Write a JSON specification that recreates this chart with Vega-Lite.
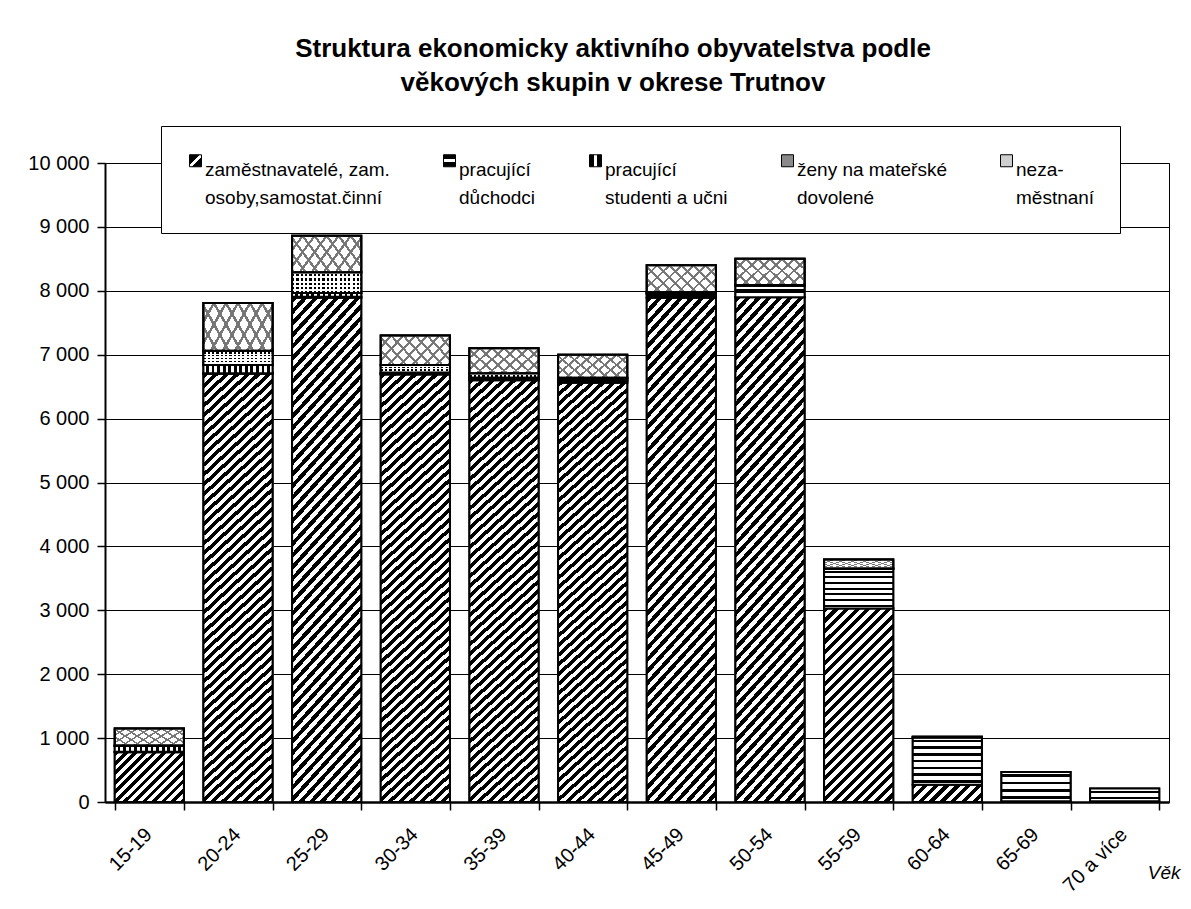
{
"$schema": "https://vega.github.io/schema/vega-lite/v6.json",
"width": 1064,
"height": 639,
"autosize": {"type": "none"},
"padding": {"left": 105, "top": 163, "right": 22, "bottom": 107},
"background": "white",
"title": {"text": ["Struktura ekonomicky aktivního obyvatelstva podle", "věkových skupin v okrese Trutnov"], "font": "Liberation Sans", "fontSize": 26, "fontWeight": "bold", "anchor": "middle", "frame": "group", "offset": 30, "dx": -24, "lineHeight": 34, "color": "#000"},
"data": {"values": [
{"vek": "15-19", "kat": "zaměstnavatelé, zam. osoby,samostat.činní", "hodnota": 780},
{"vek": "15-19", "kat": "pracující důchodci", "hodnota": 5},
{"vek": "15-19", "kat": "pracující studenti a učni", "hodnota": 90},
{"vek": "15-19", "kat": "ženy na mateřské dovolené", "hodnota": 10},
{"vek": "15-19", "kat": "nezaměstnaní", "hodnota": 265},
{"vek": "20-24", "kat": "zaměstnavatelé, zam. osoby,samostat.činní", "hodnota": 6700},
{"vek": "20-24", "kat": "pracující důchodci", "hodnota": 10},
{"vek": "20-24", "kat": "pracující studenti a učni", "hodnota": 130},
{"vek": "20-24", "kat": "ženy na mateřské dovolené", "hodnota": 220},
{"vek": "20-24", "kat": "nezaměstnaní", "hodnota": 750},
{"vek": "25-29", "kat": "zaměstnavatelé, zam. osoby,samostat.činní", "hodnota": 7890},
{"vek": "25-29", "kat": "pracující důchodci", "hodnota": 15},
{"vek": "25-29", "kat": "pracující studenti a učni", "hodnota": 60},
{"vek": "25-29", "kat": "ženy na mateřské dovolené", "hodnota": 325},
{"vek": "25-29", "kat": "nezaměstnaní", "hodnota": 570},
{"vek": "30-34", "kat": "zaměstnavatelé, zam. osoby,samostat.činní", "hodnota": 6690},
{"vek": "30-34", "kat": "pracující důchodci", "hodnota": 10},
{"vek": "30-34", "kat": "pracující studenti a učni", "hodnota": 20},
{"vek": "30-34", "kat": "ženy na mateřské dovolené", "hodnota": 120},
{"vek": "30-34", "kat": "nezaměstnaní", "hodnota": 460},
{"vek": "35-39", "kat": "zaměstnavatelé, zam. osoby,samostat.činní", "hodnota": 6600},
{"vek": "35-39", "kat": "pracující důchodci", "hodnota": 20},
{"vek": "35-39", "kat": "pracující studenti a učni", "hodnota": 20},
{"vek": "35-39", "kat": "ženy na mateřské dovolené", "hodnota": 70},
{"vek": "35-39", "kat": "nezaměstnaní", "hodnota": 390},
{"vek": "40-44", "kat": "zaměstnavatelé, zam. osoby,samostat.činní", "hodnota": 6560},
{"vek": "40-44", "kat": "pracující důchodci", "hodnota": 30},
{"vek": "40-44", "kat": "pracující studenti a učni", "hodnota": 20},
{"vek": "40-44", "kat": "ženy na mateřské dovolené", "hodnota": 30},
{"vek": "40-44", "kat": "nezaměstnaní", "hodnota": 360},
{"vek": "45-49", "kat": "zaměstnavatelé, zam. osoby,samostat.činní", "hodnota": 7890},
{"vek": "45-49", "kat": "pracující důchodci", "hodnota": 60},
{"vek": "45-49", "kat": "pracující studenti a učni", "hodnota": 10},
{"vek": "45-49", "kat": "ženy na mateřské dovolené", "hodnota": 20},
{"vek": "45-49", "kat": "nezaměstnaní", "hodnota": 420},
{"vek": "50-54", "kat": "zaměstnavatelé, zam. osoby,samostat.činní", "hodnota": 7900},
{"vek": "50-54", "kat": "pracující důchodci", "hodnota": 180},
{"vek": "50-54", "kat": "pracující studenti a učni", "hodnota": 5},
{"vek": "50-54", "kat": "ženy na mateřské dovolené", "hodnota": 5},
{"vek": "50-54", "kat": "nezaměstnaní", "hodnota": 410},
{"vek": "55-59", "kat": "zaměstnavatelé, zam. osoby,samostat.činní", "hodnota": 3030},
{"vek": "55-59", "kat": "pracující důchodci", "hodnota": 620},
{"vek": "55-59", "kat": "pracující studenti a učni", "hodnota": 5},
{"vek": "55-59", "kat": "nezaměstnaní", "hodnota": 140},
{"vek": "60-64", "kat": "zaměstnavatelé, zam. osoby,samostat.činní", "hodnota": 270},
{"vek": "60-64", "kat": "pracující důchodci", "hodnota": 740},
{"vek": "60-64", "kat": "nezaměstnaní", "hodnota": 10},
{"vek": "65-69", "kat": "zaměstnavatelé, zam. osoby,samostat.činní", "hodnota": 10},
{"vek": "65-69", "kat": "pracující důchodci", "hodnota": 460},
{"vek": "70 a více", "kat": "zaměstnavatelé, zam. osoby,samostat.činní", "hodnota": 10},
{"vek": "70 a více", "kat": "pracující důchodci", "hodnota": 200}
]},
"transform": [{"stack": "hodnota", "groupby": ["vek"], "as": ["y0", "y1"]}],
"encoding": {
  "x": {"field": "vek", "type": "ordinal", "sort": null, "scale": {"paddingInner": 0.22, "paddingOuter": 0.11},
    "axis": {"title": "Věk", "labelAngle": -45, "labelAlign": "right", "labelFontSize": 20, "tickBand": "extent", "tickSize": 8, "tickWidth": 1.5, "domainWidth": 2.5, "labelPadding": 14, "labelOffset": -8, "titleFontStyle": "italic", "titleFontWeight": "normal", "titleFontSize": 19, "titleX": 1075, "titleY": 76, "titleAlign": "right", "titleBaseline": "alphabetic", "grid": false}},
  "y": {"field": "y1", "type": "quantitative", "scale": {"domain": [0, 10000], "nice": false},
    "axis": {"title": null, "values": [0, 1000, 2000, 3000, 4000, 5000, 6000, 7000, 8000, 9000, 10000], "labelExpr": "replace(format(datum.value, ','), ',', ' ')", "grid": true, "gridWidth": 1, "gridColor": "#000", "domainWidth": 2, "tickSize": 8, "tickWidth": 1.5, "labelPadding": 8, "labelFontSize": 20}},
  "y2": {"field": "y0"}
},
"layer": [
{"mark": {"type": "bar", "stroke": "#000", "strokeWidth": 2},
 "encoding": {"fill": {"field": "kat", "type": "nominal",
   "scale": {"domain": ["zaměstnavatelé, zam. osoby,samostat.činní", "pracující důchodci", "pracující studenti a učni", "ženy na mateřské dovolené", "nezaměstnaní"],
     "range": [
       {"expr": "{gradient:'linear',x1:0,y1:0,x2:1,y2:1,stops:[{offset:0,color:'#000'},{offset:0.42,color:'#000'},{offset:0.42,color:'#fff'},{offset:0.58,color:'#fff'},{offset:0.58,color:'#000'},{offset:1,color:'#000'}]}"},
       {"expr": "{gradient:'linear',x1:0,y1:0,x2:0,y2:1,stops:[{offset:0,color:'#000'},{offset:0.38,color:'#000'},{offset:0.38,color:'#fff'},{offset:0.62,color:'#fff'},{offset:0.62,color:'#000'},{offset:1,color:'#000'}]}"},
       {"expr": "{gradient:'linear',x1:0,y1:0,x2:1,y2:0,stops:[{offset:0,color:'#000'},{offset:0.38,color:'#000'},{offset:0.38,color:'#fff'},{offset:0.62,color:'#fff'},{offset:0.62,color:'#000'},{offset:1,color:'#000'}]}"},
       "#8a8a8a",
       "#cfcfcf"]},
   "legend": {"title": null, "orient": "none", "legendX": 56, "legendY": -37, "direction": "horizontal", "columnPadding": 50, "padding": 25, "strokeColor": "#000", "fillColor": "#fff", "labelFont": "Liberation Sans", "labelFontSize": 19, "labelColor": "#000", "labelLimit": 0, "labelOffset": 0, "labelBaseline": "top", "symbolType": "square", "symbolSize": 144, "symbolStrokeColor": "#000", "symbolStrokeWidth": 1,
     "labelExpr": "datum.label == 'pracující důchodci' ? ['pracující', '\u00a0\u00a0\u00a0důchodci'] : datum.label == 'pracující studenti a učni' ? ['pracující', 'studenti a učni'] : datum.label == 'ženy na mateřské dovolené' ? ['ženy na mateřské', '\u00a0\u00a0dovolené'] : datum.label == 'nezaměstnaní' ? ['neza-', '\u00a0\u00a0městnaní'] : ['zaměstnavatelé, zam.', '\u00a0\u00a0\u00a0osoby,samostat.činní']"}}}},
{"transform": [{"filter": {"field": "kat", "equal": "zaměstnavatelé, zam. osoby,samostat.činní"}}, {"filter": {"field": "vek", "oneOf": ["20-24", "25-29", "30-34", "35-39", "40-44", "45-49", "50-54"]}}],
 "mark": {"type": "bar", "stroke": "#000", "strokeWidth": 2, "fill": {"gradient": "linear", "x1": 0, "y1": 0, "x2": 0.1696, "y2": 1.1252, "stops": [
{"offset":0,"color":"#000"},
{"offset":0.01,"color":"#000"},{"offset":0.01,"color":"#fff"},{"offset":0.02,"color":"#fff"},{"offset":0.02,"color":"#000"},
{"offset":0.03,"color":"#000"},{"offset":0.03,"color":"#fff"},{"offset":0.04,"color":"#fff"},{"offset":0.04,"color":"#000"},
{"offset":0.05,"color":"#000"},{"offset":0.05,"color":"#fff"},{"offset":0.06,"color":"#fff"},{"offset":0.06,"color":"#000"},
{"offset":0.07,"color":"#000"},{"offset":0.07,"color":"#fff"},{"offset":0.08,"color":"#fff"},{"offset":0.08,"color":"#000"},
{"offset":0.09,"color":"#000"},{"offset":0.09,"color":"#fff"},{"offset":0.1,"color":"#fff"},{"offset":0.1,"color":"#000"},
{"offset":0.11,"color":"#000"},{"offset":0.11,"color":"#fff"},{"offset":0.12,"color":"#fff"},{"offset":0.12,"color":"#000"},
{"offset":0.13,"color":"#000"},{"offset":0.13,"color":"#fff"},{"offset":0.14,"color":"#fff"},{"offset":0.14,"color":"#000"},
{"offset":0.15,"color":"#000"},{"offset":0.15,"color":"#fff"},{"offset":0.16,"color":"#fff"},{"offset":0.16,"color":"#000"},
{"offset":0.17,"color":"#000"},{"offset":0.17,"color":"#fff"},{"offset":0.18,"color":"#fff"},{"offset":0.18,"color":"#000"},
{"offset":0.19,"color":"#000"},{"offset":0.19,"color":"#fff"},{"offset":0.2,"color":"#fff"},{"offset":0.2,"color":"#000"},
{"offset":0.21,"color":"#000"},{"offset":0.21,"color":"#fff"},{"offset":0.22,"color":"#fff"},{"offset":0.22,"color":"#000"},
{"offset":0.23,"color":"#000"},{"offset":0.23,"color":"#fff"},{"offset":0.24,"color":"#fff"},{"offset":0.24,"color":"#000"},
{"offset":0.25,"color":"#000"},{"offset":0.25,"color":"#fff"},{"offset":0.26,"color":"#fff"},{"offset":0.26,"color":"#000"},
{"offset":0.27,"color":"#000"},{"offset":0.27,"color":"#fff"},{"offset":0.28,"color":"#fff"},{"offset":0.28,"color":"#000"},
{"offset":0.29,"color":"#000"},{"offset":0.29,"color":"#fff"},{"offset":0.3,"color":"#fff"},{"offset":0.3,"color":"#000"},
{"offset":0.31,"color":"#000"},{"offset":0.31,"color":"#fff"},{"offset":0.32,"color":"#fff"},{"offset":0.32,"color":"#000"},
{"offset":0.33,"color":"#000"},{"offset":0.33,"color":"#fff"},{"offset":0.34,"color":"#fff"},{"offset":0.34,"color":"#000"},
{"offset":0.35,"color":"#000"},{"offset":0.35,"color":"#fff"},{"offset":0.36,"color":"#fff"},{"offset":0.36,"color":"#000"},
{"offset":0.37,"color":"#000"},{"offset":0.37,"color":"#fff"},{"offset":0.38,"color":"#fff"},{"offset":0.38,"color":"#000"},
{"offset":0.39,"color":"#000"},{"offset":0.39,"color":"#fff"},{"offset":0.4,"color":"#fff"},{"offset":0.4,"color":"#000"},
{"offset":0.41,"color":"#000"},{"offset":0.41,"color":"#fff"},{"offset":0.42,"color":"#fff"},{"offset":0.42,"color":"#000"},
{"offset":0.43,"color":"#000"},{"offset":0.43,"color":"#fff"},{"offset":0.44,"color":"#fff"},{"offset":0.44,"color":"#000"},
{"offset":0.45,"color":"#000"},{"offset":0.45,"color":"#fff"},{"offset":0.46,"color":"#fff"},{"offset":0.46,"color":"#000"},
{"offset":0.47,"color":"#000"},{"offset":0.47,"color":"#fff"},{"offset":0.48,"color":"#fff"},{"offset":0.48,"color":"#000"},
{"offset":0.49,"color":"#000"},{"offset":0.49,"color":"#fff"},{"offset":0.5,"color":"#fff"},{"offset":0.5,"color":"#000"},
{"offset":0.51,"color":"#000"},{"offset":0.51,"color":"#fff"},{"offset":0.52,"color":"#fff"},{"offset":0.52,"color":"#000"},
{"offset":0.53,"color":"#000"},{"offset":0.53,"color":"#fff"},{"offset":0.54,"color":"#fff"},{"offset":0.54,"color":"#000"},
{"offset":0.55,"color":"#000"},{"offset":0.55,"color":"#fff"},{"offset":0.56,"color":"#fff"},{"offset":0.56,"color":"#000"},
{"offset":0.57,"color":"#000"},{"offset":0.57,"color":"#fff"},{"offset":0.58,"color":"#fff"},{"offset":0.58,"color":"#000"},
{"offset":0.59,"color":"#000"},{"offset":0.59,"color":"#fff"},{"offset":0.6,"color":"#fff"},{"offset":0.6,"color":"#000"},
{"offset":0.61,"color":"#000"},{"offset":0.61,"color":"#fff"},{"offset":0.62,"color":"#fff"},{"offset":0.62,"color":"#000"},
{"offset":0.63,"color":"#000"},{"offset":0.63,"color":"#fff"},{"offset":0.64,"color":"#fff"},{"offset":0.64,"color":"#000"},
{"offset":0.65,"color":"#000"},{"offset":0.65,"color":"#fff"},{"offset":0.66,"color":"#fff"},{"offset":0.66,"color":"#000"},
{"offset":0.67,"color":"#000"},{"offset":0.67,"color":"#fff"},{"offset":0.68,"color":"#fff"},{"offset":0.68,"color":"#000"},
{"offset":0.69,"color":"#000"},{"offset":0.69,"color":"#fff"},{"offset":0.7,"color":"#fff"},{"offset":0.7,"color":"#000"},
{"offset":0.71,"color":"#000"},{"offset":0.71,"color":"#fff"},{"offset":0.72,"color":"#fff"},{"offset":0.72,"color":"#000"},
{"offset":0.73,"color":"#000"},{"offset":0.73,"color":"#fff"},{"offset":0.74,"color":"#fff"},{"offset":0.74,"color":"#000"},
{"offset":0.75,"color":"#000"},{"offset":0.75,"color":"#fff"},{"offset":0.76,"color":"#fff"},{"offset":0.76,"color":"#000"},
{"offset":0.77,"color":"#000"},{"offset":0.77,"color":"#fff"},{"offset":0.78,"color":"#fff"},{"offset":0.78,"color":"#000"},
{"offset":0.79,"color":"#000"},{"offset":0.79,"color":"#fff"},{"offset":0.8,"color":"#fff"},{"offset":0.8,"color":"#000"},
{"offset":0.81,"color":"#000"},{"offset":0.81,"color":"#fff"},{"offset":0.82,"color":"#fff"},{"offset":0.82,"color":"#000"},
{"offset":0.83,"color":"#000"},{"offset":0.83,"color":"#fff"},{"offset":0.84,"color":"#fff"},{"offset":0.84,"color":"#000"},
{"offset":0.85,"color":"#000"},{"offset":0.85,"color":"#fff"},{"offset":0.86,"color":"#fff"},{"offset":0.86,"color":"#000"},
{"offset":0.87,"color":"#000"},{"offset":0.87,"color":"#fff"},{"offset":0.88,"color":"#fff"},{"offset":0.88,"color":"#000"},
{"offset":0.89,"color":"#000"},{"offset":0.89,"color":"#fff"},{"offset":0.9,"color":"#fff"},{"offset":0.9,"color":"#000"},
{"offset":0.91,"color":"#000"},{"offset":0.91,"color":"#fff"},{"offset":0.92,"color":"#fff"},{"offset":0.92,"color":"#000"},
{"offset":0.93,"color":"#000"},{"offset":0.93,"color":"#fff"},{"offset":0.94,"color":"#fff"},{"offset":0.94,"color":"#000"},
{"offset":0.95,"color":"#000"},{"offset":0.95,"color":"#fff"},{"offset":0.96,"color":"#fff"},{"offset":0.96,"color":"#000"},
{"offset":0.97,"color":"#000"},{"offset":0.97,"color":"#fff"},{"offset":0.98,"color":"#fff"},{"offset":0.98,"color":"#000"},
{"offset":0.99,"color":"#000"},{"offset":0.99,"color":"#fff"},{"offset":1,"color":"#fff"}]}}},
{"transform": [{"filter": {"field": "kat", "equal": "zaměstnavatelé, zam. osoby,samostat.činní"}}, {"filter": {"field": "vek", "equal": "55-59"}}],
 "mark": {"type": "bar", "stroke": "#000", "strokeWidth": 2, "fill": {"gradient": "linear", "x1": 0, "y1": 0, "x2": 0.429, "y2": 1.2036, "stops": [
{"offset":0,"color":"#000"},
{"offset":0.02,"color":"#000"},{"offset":0.02,"color":"#fff"},{"offset":0.04,"color":"#fff"},{"offset":0.04,"color":"#000"},
{"offset":0.06,"color":"#000"},{"offset":0.06,"color":"#fff"},{"offset":0.08,"color":"#fff"},{"offset":0.08,"color":"#000"},
{"offset":0.1,"color":"#000"},{"offset":0.1,"color":"#fff"},{"offset":0.12,"color":"#fff"},{"offset":0.12,"color":"#000"},
{"offset":0.14,"color":"#000"},{"offset":0.14,"color":"#fff"},{"offset":0.16,"color":"#fff"},{"offset":0.16,"color":"#000"},
{"offset":0.18,"color":"#000"},{"offset":0.18,"color":"#fff"},{"offset":0.2,"color":"#fff"},{"offset":0.2,"color":"#000"},
{"offset":0.22,"color":"#000"},{"offset":0.22,"color":"#fff"},{"offset":0.24,"color":"#fff"},{"offset":0.24,"color":"#000"},
{"offset":0.26,"color":"#000"},{"offset":0.26,"color":"#fff"},{"offset":0.28,"color":"#fff"},{"offset":0.28,"color":"#000"},
{"offset":0.3,"color":"#000"},{"offset":0.3,"color":"#fff"},{"offset":0.32,"color":"#fff"},{"offset":0.32,"color":"#000"},
{"offset":0.34,"color":"#000"},{"offset":0.34,"color":"#fff"},{"offset":0.36,"color":"#fff"},{"offset":0.36,"color":"#000"},
{"offset":0.38,"color":"#000"},{"offset":0.38,"color":"#fff"},{"offset":0.4,"color":"#fff"},{"offset":0.4,"color":"#000"},
{"offset":0.42,"color":"#000"},{"offset":0.42,"color":"#fff"},{"offset":0.44,"color":"#fff"},{"offset":0.44,"color":"#000"},
{"offset":0.46,"color":"#000"},{"offset":0.46,"color":"#fff"},{"offset":0.48,"color":"#fff"},{"offset":0.48,"color":"#000"},
{"offset":0.5,"color":"#000"},{"offset":0.5,"color":"#fff"},{"offset":0.52,"color":"#fff"},{"offset":0.52,"color":"#000"},
{"offset":0.54,"color":"#000"},{"offset":0.54,"color":"#fff"},{"offset":0.56,"color":"#fff"},{"offset":0.56,"color":"#000"},
{"offset":0.58,"color":"#000"},{"offset":0.58,"color":"#fff"},{"offset":0.6,"color":"#fff"},{"offset":0.6,"color":"#000"},
{"offset":0.62,"color":"#000"},{"offset":0.62,"color":"#fff"},{"offset":0.64,"color":"#fff"},{"offset":0.64,"color":"#000"},
{"offset":0.66,"color":"#000"},{"offset":0.66,"color":"#fff"},{"offset":0.68,"color":"#fff"},{"offset":0.68,"color":"#000"},
{"offset":0.7,"color":"#000"},{"offset":0.7,"color":"#fff"},{"offset":0.72,"color":"#fff"},{"offset":0.72,"color":"#000"},
{"offset":0.74,"color":"#000"},{"offset":0.74,"color":"#fff"},{"offset":0.76,"color":"#fff"},{"offset":0.76,"color":"#000"},
{"offset":0.78,"color":"#000"},{"offset":0.78,"color":"#fff"},{"offset":0.8,"color":"#fff"},{"offset":0.8,"color":"#000"},
{"offset":0.82,"color":"#000"},{"offset":0.82,"color":"#fff"},{"offset":0.84,"color":"#fff"},{"offset":0.84,"color":"#000"},
{"offset":0.86,"color":"#000"},{"offset":0.86,"color":"#fff"},{"offset":0.88,"color":"#fff"},{"offset":0.88,"color":"#000"},
{"offset":0.9,"color":"#000"},{"offset":0.9,"color":"#fff"},{"offset":0.92,"color":"#fff"},{"offset":0.92,"color":"#000"},
{"offset":0.94,"color":"#000"},{"offset":0.94,"color":"#fff"},{"offset":0.96,"color":"#fff"},{"offset":0.96,"color":"#000"},
{"offset":0.98,"color":"#000"},{"offset":0.98,"color":"#fff"},{"offset":1,"color":"#fff"}]}}},
{"transform": [{"filter": {"field": "kat", "equal": "zaměstnavatelé, zam. osoby,samostat.činní"}}, {"filter": {"field": "vek", "equal": "15-19"}}],
 "mark": {"type": "bar", "stroke": "#000", "strokeWidth": 2, "fill": {"gradient": "linear", "x1": 0, "y1": 0, "x2": 1.132, "y2": 0.8168, "stops": [
{"offset":0,"color":"#000"},
{"offset":0.04,"color":"#000"},{"offset":0.04,"color":"#fff"},{"offset":0.08,"color":"#fff"},{"offset":0.08,"color":"#000"},
{"offset":0.12,"color":"#000"},{"offset":0.12,"color":"#fff"},{"offset":0.16,"color":"#fff"},{"offset":0.16,"color":"#000"},
{"offset":0.2,"color":"#000"},{"offset":0.2,"color":"#fff"},{"offset":0.24,"color":"#fff"},{"offset":0.24,"color":"#000"},
{"offset":0.28,"color":"#000"},{"offset":0.28,"color":"#fff"},{"offset":0.32,"color":"#fff"},{"offset":0.32,"color":"#000"},
{"offset":0.36,"color":"#000"},{"offset":0.36,"color":"#fff"},{"offset":0.4,"color":"#fff"},{"offset":0.4,"color":"#000"},
{"offset":0.44,"color":"#000"},{"offset":0.44,"color":"#fff"},{"offset":0.48,"color":"#fff"},{"offset":0.48,"color":"#000"},
{"offset":0.52,"color":"#000"},{"offset":0.52,"color":"#fff"},{"offset":0.56,"color":"#fff"},{"offset":0.56,"color":"#000"},
{"offset":0.6,"color":"#000"},{"offset":0.6,"color":"#fff"},{"offset":0.64,"color":"#fff"},{"offset":0.64,"color":"#000"},
{"offset":0.68,"color":"#000"},{"offset":0.68,"color":"#fff"},{"offset":0.72,"color":"#fff"},{"offset":0.72,"color":"#000"},
{"offset":0.76,"color":"#000"},{"offset":0.76,"color":"#fff"},{"offset":0.8,"color":"#fff"},{"offset":0.8,"color":"#000"},
{"offset":0.84,"color":"#000"},{"offset":0.84,"color":"#fff"},{"offset":0.88,"color":"#fff"},{"offset":0.88,"color":"#000"},
{"offset":0.92,"color":"#000"},{"offset":0.92,"color":"#fff"},{"offset":0.96,"color":"#fff"},{"offset":0.96,"color":"#000"},
{"offset":1,"color":"#000"}]}}},
{"transform": [{"filter": {"field": "kat", "equal": "zaměstnavatelé, zam. osoby,samostat.činní"}}, {"filter": {"field": "vek", "equal": "60-64"}}],
 "mark": {"type": "bar", "stroke": "#000", "strokeWidth": 2, "fill": {"gradient": "linear", "x1": 0, "y1": 0, "x2": 1.177, "y2": 0.295, "stops": [
{"offset":0,"color":"#000"},
{"offset":0.0625,"color":"#000"},{"offset":0.0625,"color":"#fff"},{"offset":0.125,"color":"#fff"},{"offset":0.125,"color":"#000"},
{"offset":0.1875,"color":"#000"},{"offset":0.1875,"color":"#fff"},{"offset":0.25,"color":"#fff"},{"offset":0.25,"color":"#000"},
{"offset":0.3125,"color":"#000"},{"offset":0.3125,"color":"#fff"},{"offset":0.375,"color":"#fff"},{"offset":0.375,"color":"#000"},
{"offset":0.4375,"color":"#000"},{"offset":0.4375,"color":"#fff"},{"offset":0.5,"color":"#fff"},{"offset":0.5,"color":"#000"},
{"offset":0.5625,"color":"#000"},{"offset":0.5625,"color":"#fff"},{"offset":0.625,"color":"#fff"},{"offset":0.625,"color":"#000"},
{"offset":0.6875,"color":"#000"},{"offset":0.6875,"color":"#fff"},{"offset":0.75,"color":"#fff"},{"offset":0.75,"color":"#000"},
{"offset":0.8125,"color":"#000"},{"offset":0.8125,"color":"#fff"},{"offset":0.875,"color":"#fff"},{"offset":0.875,"color":"#000"},
{"offset":0.9375,"color":"#000"},{"offset":0.9375,"color":"#fff"},{"offset":1,"color":"#fff"}]}}},
{"transform": [{"filter": {"field": "kat", "equal": "pracující důchodci"}}, {"filter": {"field": "vek", "oneOf": ["55-59", "60-64"]}}],
 "mark": {"type": "bar", "stroke": "#000", "strokeWidth": 2, "fill": {"gradient": "linear", "x1": 0, "y1": 0, "x2": 0, "y2": 1, "stops": [
{"offset":0,"color":"#fff"},
{"offset":0.0464,"color":"#fff"},{"offset":0.0464,"color":"#000"},{"offset":0.0964,"color":"#000"},{"offset":0.0964,"color":"#fff"},
{"offset":0.1893,"color":"#fff"},{"offset":0.1893,"color":"#000"},{"offset":0.2393,"color":"#000"},{"offset":0.2393,"color":"#fff"},
{"offset":0.3321,"color":"#fff"},{"offset":0.3321,"color":"#000"},{"offset":0.3821,"color":"#000"},{"offset":0.3821,"color":"#fff"},
{"offset":0.475,"color":"#fff"},{"offset":0.475,"color":"#000"},{"offset":0.525,"color":"#000"},{"offset":0.525,"color":"#fff"},
{"offset":0.6179,"color":"#fff"},{"offset":0.6179,"color":"#000"},{"offset":0.6679,"color":"#000"},{"offset":0.6679,"color":"#fff"},
{"offset":0.7607,"color":"#fff"},{"offset":0.7607,"color":"#000"},{"offset":0.8107,"color":"#000"},{"offset":0.8107,"color":"#fff"},
{"offset":0.9036,"color":"#fff"},{"offset":0.9036,"color":"#000"},{"offset":0.9536,"color":"#000"},{"offset":0.9536,"color":"#fff"},
{"offset":1,"color":"#fff"}]}}},
{"transform": [{"filter": {"field": "kat", "equal": "pracující důchodci"}}, {"filter": {"field": "vek", "equal": "65-69"}}],
 "mark": {"type": "bar", "stroke": "#000", "strokeWidth": 2, "fill": {"gradient": "linear", "x1": 0, "y1": 0, "x2": 0, "y2": 1, "stops": [
{"offset":0,"color":"#fff"},
{"offset":0.08125,"color":"#fff"},{"offset":0.08125,"color":"#000"},{"offset":0.16875,"color":"#000"},{"offset":0.16875,"color":"#fff"},
{"offset":0.33125,"color":"#fff"},{"offset":0.33125,"color":"#000"},{"offset":0.41875,"color":"#000"},{"offset":0.41875,"color":"#fff"},
{"offset":0.58125,"color":"#fff"},{"offset":0.58125,"color":"#000"},{"offset":0.66875,"color":"#000"},{"offset":0.66875,"color":"#fff"},
{"offset":0.83125,"color":"#fff"},{"offset":0.83125,"color":"#000"},{"offset":0.91875,"color":"#000"},{"offset":0.91875,"color":"#fff"},
{"offset":1,"color":"#fff"}]}}},
{"transform": [{"filter": {"field": "kat", "equal": "pracující důchodci"}}, {"filter": {"field": "vek", "equal": "70 a více"}}],
 "mark": {"type": "bar", "stroke": "#000", "strokeWidth": 2, "fill": {"gradient": "linear", "x1": 0, "y1": 0, "x2": 0, "y2": 1, "stops": [
{"offset":0,"color":"#fff"},
{"offset":0.1625,"color":"#fff"},{"offset":0.1625,"color":"#000"},{"offset":0.3375,"color":"#000"},{"offset":0.3375,"color":"#fff"},
{"offset":0.6625,"color":"#fff"},{"offset":0.6625,"color":"#000"},{"offset":0.8375,"color":"#000"},{"offset":0.8375,"color":"#fff"},
{"offset":1,"color":"#fff"}]}}},
{"transform": [{"filter": {"field": "kat", "equal": "pracující důchodci"}}, {"filter": {"field": "vek", "oneOf": ["15-19", "20-24", "25-29", "30-34", "35-39", "40-44", "45-49", "50-54"]}}],
 "mark": {"type": "bar", "stroke": "#000", "strokeWidth": 2, "fill": {"gradient": "linear", "x1": 0, "y1": 0, "x2": 0, "y2": 1, "stops": [
{"offset":0,"color":"#fff"},{"offset":0.325,"color":"#fff"},{"offset":0.325,"color":"#000"},{"offset":0.675,"color":"#000"},{"offset":0.675,"color":"#fff"},{"offset":1,"color":"#fff"}]}}},
{"transform": [{"filter": {"field": "kat", "equal": "pracující studenti a učni"}}],
 "mark": {"type": "bar", "stroke": "#000", "strokeWidth": 2, "fill": {"gradient": "linear", "x1": 0, "y1": 0, "x2": 1, "y2": 0, "stops": [
{"offset":0,"color":"#fff"},
{"offset":0.04,"color":"#fff"},{"offset":0.04,"color":"#000"},{"offset":0.08,"color":"#000"},{"offset":0.08,"color":"#fff"},
{"offset":0.12,"color":"#fff"},{"offset":0.12,"color":"#000"},{"offset":0.16,"color":"#000"},{"offset":0.16,"color":"#fff"},
{"offset":0.2,"color":"#fff"},{"offset":0.2,"color":"#000"},{"offset":0.24,"color":"#000"},{"offset":0.24,"color":"#fff"},
{"offset":0.28,"color":"#fff"},{"offset":0.28,"color":"#000"},{"offset":0.32,"color":"#000"},{"offset":0.32,"color":"#fff"},
{"offset":0.36,"color":"#fff"},{"offset":0.36,"color":"#000"},{"offset":0.4,"color":"#000"},{"offset":0.4,"color":"#fff"},
{"offset":0.44,"color":"#fff"},{"offset":0.44,"color":"#000"},{"offset":0.48,"color":"#000"},{"offset":0.48,"color":"#fff"},
{"offset":0.52,"color":"#fff"},{"offset":0.52,"color":"#000"},{"offset":0.56,"color":"#000"},{"offset":0.56,"color":"#fff"},
{"offset":0.6,"color":"#fff"},{"offset":0.6,"color":"#000"},{"offset":0.64,"color":"#000"},{"offset":0.64,"color":"#fff"},
{"offset":0.68,"color":"#fff"},{"offset":0.68,"color":"#000"},{"offset":0.72,"color":"#000"},{"offset":0.72,"color":"#fff"},
{"offset":0.76,"color":"#fff"},{"offset":0.76,"color":"#000"},{"offset":0.8,"color":"#000"},{"offset":0.8,"color":"#fff"},
{"offset":0.84,"color":"#fff"},{"offset":0.84,"color":"#000"},{"offset":0.88,"color":"#000"},{"offset":0.88,"color":"#fff"},
{"offset":0.92,"color":"#fff"},{"offset":0.92,"color":"#000"},{"offset":0.96,"color":"#000"},{"offset":0.96,"color":"#fff"},
{"offset":1,"color":"#fff"}]}}},
{"transform": [{"filter": {"field": "kat", "equal": "ženy na mateřské dovolené"}}],
 "mark": {"type": "bar", "stroke": "#000", "strokeWidth": 2, "fill": {"gradient": "linear", "x1": 0, "y1": 0, "x2": 1, "y2": 0, "stops": [
{"offset":0,"color":"#000"},
{"offset":0.03125,"color":"#000"},{"offset":0.03125,"color":"#fff"},{"offset":0.0625,"color":"#fff"},{"offset":0.0625,"color":"#000"},
{"offset":0.09375,"color":"#000"},{"offset":0.09375,"color":"#fff"},{"offset":0.125,"color":"#fff"},{"offset":0.125,"color":"#000"},
{"offset":0.15625,"color":"#000"},{"offset":0.15625,"color":"#fff"},{"offset":0.1875,"color":"#fff"},{"offset":0.1875,"color":"#000"},
{"offset":0.21875,"color":"#000"},{"offset":0.21875,"color":"#fff"},{"offset":0.25,"color":"#fff"},{"offset":0.25,"color":"#000"},
{"offset":0.28125,"color":"#000"},{"offset":0.28125,"color":"#fff"},{"offset":0.3125,"color":"#fff"},{"offset":0.3125,"color":"#000"},
{"offset":0.34375,"color":"#000"},{"offset":0.34375,"color":"#fff"},{"offset":0.375,"color":"#fff"},{"offset":0.375,"color":"#000"},
{"offset":0.40625,"color":"#000"},{"offset":0.40625,"color":"#fff"},{"offset":0.4375,"color":"#fff"},{"offset":0.4375,"color":"#000"},
{"offset":0.46875,"color":"#000"},{"offset":0.46875,"color":"#fff"},{"offset":0.5,"color":"#fff"},{"offset":0.5,"color":"#000"},
{"offset":0.53125,"color":"#000"},{"offset":0.53125,"color":"#fff"},{"offset":0.5625,"color":"#fff"},{"offset":0.5625,"color":"#000"},
{"offset":0.59375,"color":"#000"},{"offset":0.59375,"color":"#fff"},{"offset":0.625,"color":"#fff"},{"offset":0.625,"color":"#000"},
{"offset":0.65625,"color":"#000"},{"offset":0.65625,"color":"#fff"},{"offset":0.6875,"color":"#fff"},{"offset":0.6875,"color":"#000"},
{"offset":0.71875,"color":"#000"},{"offset":0.71875,"color":"#fff"},{"offset":0.75,"color":"#fff"},{"offset":0.75,"color":"#000"},
{"offset":0.78125,"color":"#000"},{"offset":0.78125,"color":"#fff"},{"offset":0.8125,"color":"#fff"},{"offset":0.8125,"color":"#000"},
{"offset":0.84375,"color":"#000"},{"offset":0.84375,"color":"#fff"},{"offset":0.875,"color":"#fff"},{"offset":0.875,"color":"#000"},
{"offset":0.90625,"color":"#000"},{"offset":0.90625,"color":"#fff"},{"offset":0.9375,"color":"#fff"},{"offset":0.9375,"color":"#000"},
{"offset":0.96875,"color":"#000"},{"offset":0.96875,"color":"#fff"},{"offset":1,"color":"#fff"}]}}},
{"transform": [{"filter": {"field": "kat", "equal": "ženy na mateřské dovolené"}}],
 "mark": {"type": "bar", "stroke": "#000", "strokeWidth": 2, "fill": {"gradient": "linear", "x1": 0, "y1": 0, "x2": 0, "y2": 1, "stops": [
{"offset":0,"color":"#fff"},
{"offset":0.1,"color":"#fff"},{"offset":0.1,"color":"rgba(255,255,255,0)"},{"offset":0.2,"color":"rgba(255,255,255,0)"},{"offset":0.2,"color":"#fff"},
{"offset":0.3,"color":"#fff"},{"offset":0.3,"color":"rgba(255,255,255,0)"},{"offset":0.4,"color":"rgba(255,255,255,0)"},{"offset":0.4,"color":"#fff"},
{"offset":0.5,"color":"#fff"},{"offset":0.5,"color":"rgba(255,255,255,0)"},{"offset":0.6,"color":"rgba(255,255,255,0)"},{"offset":0.6,"color":"#fff"},
{"offset":0.7,"color":"#fff"},{"offset":0.7,"color":"rgba(255,255,255,0)"},{"offset":0.8,"color":"rgba(255,255,255,0)"},{"offset":0.8,"color":"#fff"},
{"offset":0.9,"color":"#fff"},{"offset":0.9,"color":"rgba(255,255,255,0)"},{"offset":1,"color":"rgba(255,255,255,0)"}]}}},
{"transform": [{"filter": {"field": "kat", "equal": "nezaměstnaní"}}],
 "mark": {"type": "bar", "stroke": "#000", "strokeWidth": 2, "fill": {"gradient": "linear", "x1": 0, "y1": 0, "x2": 1.206, "y2": 0.472, "stops": [
{"offset":0,"color":"#fff"},
{"offset":0.095,"color":"#fff"},{"offset":0.095,"color":"#777"},{"offset":0.125,"color":"#777"},{"offset":0.125,"color":"#fff"},
{"offset":0.22,"color":"#fff"},{"offset":0.22,"color":"#777"},{"offset":0.25,"color":"#777"},{"offset":0.25,"color":"#fff"},
{"offset":0.345,"color":"#fff"},{"offset":0.345,"color":"#777"},{"offset":0.375,"color":"#777"},{"offset":0.375,"color":"#fff"},
{"offset":0.47,"color":"#fff"},{"offset":0.47,"color":"#777"},{"offset":0.5,"color":"#777"},{"offset":0.5,"color":"#fff"},
{"offset":0.595,"color":"#fff"},{"offset":0.595,"color":"#777"},{"offset":0.625,"color":"#777"},{"offset":0.625,"color":"#fff"},
{"offset":0.72,"color":"#fff"},{"offset":0.72,"color":"#777"},{"offset":0.75,"color":"#777"},{"offset":0.75,"color":"#fff"},
{"offset":0.845,"color":"#fff"},{"offset":0.845,"color":"#777"},{"offset":0.875,"color":"#777"},{"offset":0.875,"color":"#fff"},
{"offset":0.97,"color":"#fff"},{"offset":0.97,"color":"#777"},{"offset":1,"color":"#777"}]}}},
{"transform": [{"filter": {"field": "kat", "equal": "nezaměstnaní"}}],
 "mark": {"type": "bar", "stroke": "#000", "strokeWidth": 2, "fill": {"gradient": "linear", "x1": 1, "y1": 0, "x2": -0.206, "y2": 0.472, "stops": [
{"offset":0,"color":"rgba(255,255,255,0)"},
{"offset":0.095,"color":"rgba(255,255,255,0)"},{"offset":0.095,"color":"#777"},{"offset":0.125,"color":"#777"},{"offset":0.125,"color":"rgba(255,255,255,0)"},
{"offset":0.22,"color":"rgba(255,255,255,0)"},{"offset":0.22,"color":"#777"},{"offset":0.25,"color":"#777"},{"offset":0.25,"color":"rgba(255,255,255,0)"},
{"offset":0.345,"color":"rgba(255,255,255,0)"},{"offset":0.345,"color":"#777"},{"offset":0.375,"color":"#777"},{"offset":0.375,"color":"rgba(255,255,255,0)"},
{"offset":0.47,"color":"rgba(255,255,255,0)"},{"offset":0.47,"color":"#777"},{"offset":0.5,"color":"#777"},{"offset":0.5,"color":"rgba(255,255,255,0)"},
{"offset":0.595,"color":"rgba(255,255,255,0)"},{"offset":0.595,"color":"#777"},{"offset":0.625,"color":"#777"},{"offset":0.625,"color":"rgba(255,255,255,0)"},
{"offset":0.72,"color":"rgba(255,255,255,0)"},{"offset":0.72,"color":"#777"},{"offset":0.75,"color":"#777"},{"offset":0.75,"color":"rgba(255,255,255,0)"},
{"offset":0.845,"color":"rgba(255,255,255,0)"},{"offset":0.845,"color":"#777"},{"offset":0.875,"color":"#777"},{"offset":0.875,"color":"rgba(255,255,255,0)"},
{"offset":0.97,"color":"rgba(255,255,255,0)"},{"offset":0.97,"color":"#777"},{"offset":1,"color":"#777"}]}}}
],
"config": {
  "font": "Liberation Sans",
  "view": {"stroke": "#000", "strokeWidth": 1},
  "axis": {"labelFont": "Liberation Sans", "labelColor": "#000", "domainColor": "#000", "tickColor": "#000", "titleColor": "#000", "titleFont": "Liberation Sans"},
  "style": {"guide-label": {"lineHeight": 28}}
}
}
